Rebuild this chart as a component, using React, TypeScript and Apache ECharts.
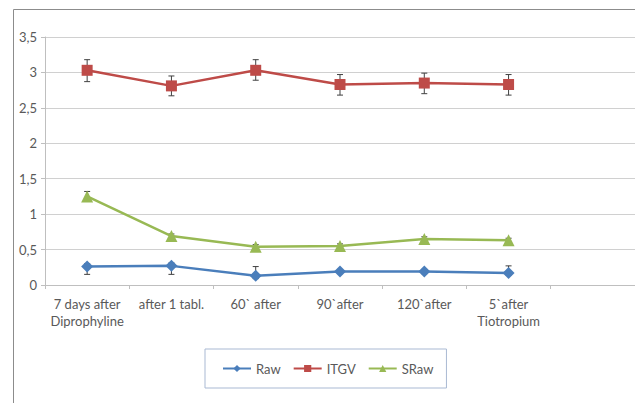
import React, { useEffect, useRef } from "react";
import * as echarts from "echarts";

const categories = [
  "7 days after\nDiprophyline",
  "after 1 tabl.",
  "60` after",
  "90`after",
  "120`after",
  "5`after\nTiotropium",
  "",
];
const yTicks = [0, 0.5, 1, 1.5, 2, 2.5, 3, 3.5];

const rawValues = [0.26, 0.27, 0.13, 0.19, 0.19, 0.17];
const itgvValues = [3.03, 2.81, 3.03, 2.83, 2.85, 2.83];
const srawValues = [1.25, 0.69, 0.54, 0.55, 0.65, 0.63];

const rawErrLow = [0.11, 0.12, 0.04, 0.03, 0.03, 0.03];
const rawErrHigh = [0.04, 0.04, 0.13, 0.03, 0.03, 0.1];
const itgvErrLow = [0.16, 0.14, 0.14, 0.15, 0.15, 0.15];
const itgvErrHigh = [0.15, 0.14, 0.15, 0.14, 0.14, 0.14];
const srawErrLow = [0.04, 0.03, 0.03, 0.03, 0.03, 0.03];
const srawErrHigh = [0.07, 0.03, 0.03, 0.03, 0.03, 0.03];

const FONT = "Lato, 'Open Sans', sans-serif";
const TXT = "#595959";

function errData(values: number[], lo: number[], hi: number[]) {
  return values.map((v, i) => [i, v - lo[i], v + hi[i]]);
}

function errorSeries(name: string, values: number[], lo: number[], hi: number[]) {
  return {
    type: "custom",
    name: name + "_err",
    z: 1,
    silent: true,
    renderItem: (params: any, api: any) => {
      const x = api.value(0);
      const l = api.coord([x, api.value(1)]);
      const h = api.coord([x, api.value(2)]);
      const cap = 3;
      const style = { stroke: "#404040", lineWidth: 1 };
      return {
        type: "group",
        children: [
          { type: "line", shape: { x1: l[0], y1: l[1], x2: h[0], y2: h[1] }, style },
          { type: "line", shape: { x1: h[0] - cap, y1: h[1], x2: h[0] + cap, y2: h[1] }, style },
          { type: "line", shape: { x1: l[0] - cap, y1: l[1], x2: l[0] + cap, y2: l[1] }, style },
        ],
      };
    },
    encode: { x: 0, y: [1, 2] },
    data: errData(values, lo, hi),
  };
}

function lineSeries(name: string, values: number[], color: string, symbol: string, size: number) {
  return {
    type: "line",
    name,
    z: 3,
    data: values,
    symbol,
    symbolSize: size,
    showAllSymbol: true,
    lineStyle: { color, width: 2.5 },
    itemStyle: { color },
  };
}

export default function App() {
  const ref = useRef<HTMLDivElement>(null);
  useEffect(() => {
    document.body.style.margin = "0";
    const chart = echarts.init(ref.current!, undefined, { renderer: "svg" });
    chart.setOption({
      animation: false,
      backgroundColor: "#ffffff",
      textStyle: { fontFamily: FONT },
      grid: { left: 45, top: 37, width: 597, height: 248, containLabel: false },
      xAxis: {
        type: "category",
        data: categories,
        boundaryGap: true,
        axisLine: { show: true, lineStyle: { color: "#bfbfbf", width: 1 } },
        axisTick: { show: true, length: 4, alignWithLabel: false, interval: 0, lineStyle: { color: "#bfbfbf" } },
        axisLabel: {
          interval: 0,
          color: TXT,
          fontSize: 13,
          fontFamily: FONT,
          lineHeight: 17,
          margin: 10,
        },
      },
      yAxis: {
        type: "value",
        min: yTicks[0],
        max: yTicks[yTicks.length - 1],
        interval: 0.5,
        axisLine: { show: true, lineStyle: { color: "#bfbfbf", width: 1 } },
        axisTick: { show: true, length: 4, lineStyle: { color: "#bfbfbf" } },
        splitLine: { show: true, lineStyle: { color: "#d0d0d0", width: 1 } },
        axisLabel: {
          color: TXT,
          fontSize: 13,
          fontFamily: FONT,
          margin: 8,
          formatter: (v: number) => String(v).replace(".", ","),
        },
      },
      legend: {
        data: ["Raw", "ITGV", "SRaw"],
        left: 205,
        top: 349,
        padding: [13, 13, 13, 17],
        itemGap: 12,
        itemWidth: 28,
        itemHeight: 9,
        borderColor: "#a9b9d3",
        borderWidth: 1,
        textStyle: { color: TXT, fontSize: 13, fontFamily: FONT },
      },
      graphic: [
        { type: "line", shape: { x1: 13.5, y1: 9.5, x2: 640, y2: 9.5 }, style: { stroke: "#8c8c8c", lineWidth: 1 } },
        { type: "line", shape: { x1: 13.5, y1: 9.5, x2: 13.5, y2: 410 }, style: { stroke: "#8c8c8c", lineWidth: 1 } },
      ],
      series: [
        errorSeries("Raw", rawValues, rawErrLow, rawErrHigh),
        errorSeries("ITGV", itgvValues, itgvErrLow, itgvErrHigh),
        errorSeries("SRaw", srawValues, srawErrLow, srawErrHigh),
        lineSeries("Raw", rawValues, "#4a7ebb", "diamond", 12),
        lineSeries("ITGV", itgvValues, "#be4b48", "rect", 11),
        lineSeries("SRaw", srawValues, "#98b954", "triangle", 12),
      ],
    });
    return () => chart.dispose();
  }, []);
  return <div ref={ref} style={{ width: 635, height: 403 }} />;
}
